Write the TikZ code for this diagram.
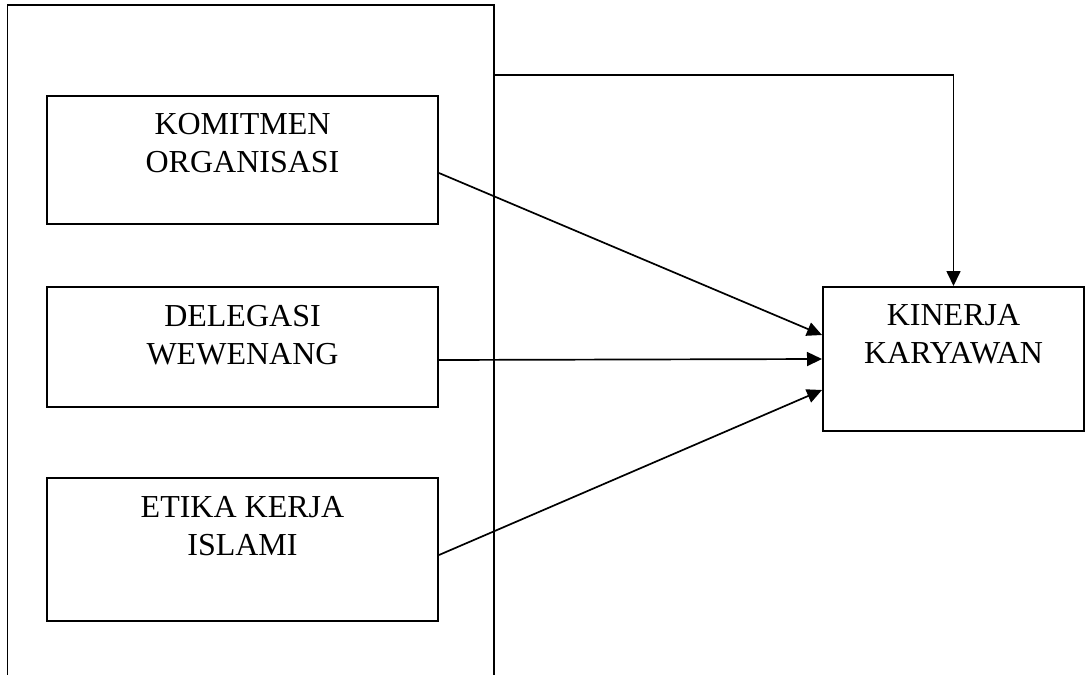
\documentclass[tikz,border=0pt]{standalone}
\usepackage{fontspec}
\setmainfont{Liberation Serif}
\usepackage{tikz}
\usetikzlibrary{arrows.meta}
\usetikzlibrary{positioning}

\begin{document}
\begin{tikzpicture}[x=1pt, y=-1pt,
    varbox/.style={draw, line width=2pt, inner sep=0pt},
    vartext/.style={align=center, inner sep=0pt, font=\fontsize{32}{38}\selectfont},
    pfeil/.style={line width=1.7pt, -{Triangle[length=15pt, width=14pt]}}]
  \useasboundingbox (0, 0) rectangle (1085, 675);
  \draw[line width=1.3pt] (7.5, 680) -- (7.5, 5) -- (494, 5) -- (494, 680);
  \coordinate (rahmen) at (494, 75);
  \node[varbox, minimum width=391pt, minimum height=128pt] (komitmen) at (242.5, 160) {};
  \node[varbox, minimum width=391pt, minimum height=120pt] (delegasi) at (242.5, 347) {};
  \node[varbox, minimum width=391pt, minimum height=143pt] (etika)    at (242.5, 549.5) {};
  \node[varbox, minimum width=261pt, minimum height=144pt] (kinerja)  at (953.5, 359) {};
  \node[vartext, below=18pt of komitmen.north] (komitmen-text) {KOMITMEN\\ORGANISASI};
  \node[vartext, below=19pt of delegasi.north] (delegasi-text) {DELEGASI\\WEWENANG};
  \node[vartext, below=19pt of etika.north]    (etika-text)    {ETIKA KERJA\\ISLAMI};
  \node[vartext, below=18pt of kinerja.north]  (kinerja-text)  {KINERJA\\KARYAWAN};
  \draw[pfeil] ([yshift=-13pt]komitmen.east) -- ([yshift=24pt]kinerja.west);
  \draw[pfeil] ([yshift=-13pt]delegasi.east) -- (kinerja.west);
  \draw[pfeil] ([yshift=-5.5pt]etika.east) -- ([yshift=-31pt]kinerja.west);
  \draw[pfeil] (rahmen) -| (kinerja.north);
\end{tikzpicture}
\end{document}
